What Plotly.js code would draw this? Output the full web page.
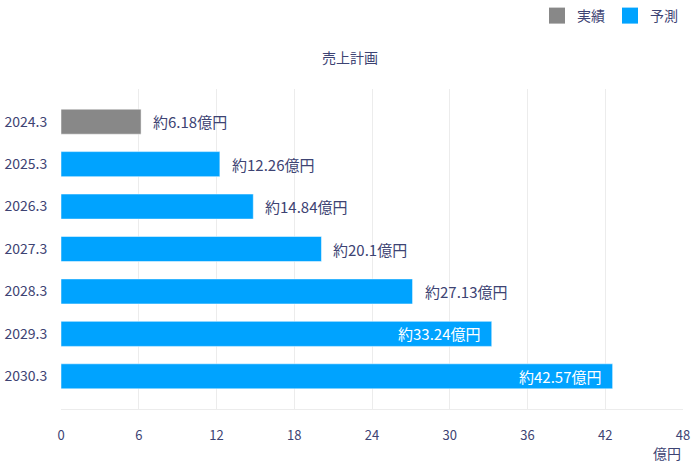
<!DOCTYPE html>
<html>
<head>
<meta charset="utf-8">
<script src="https://cdn.plot.ly/plotly-3.0.1.min.js"></script>
<style>
  html, body { margin: 0; padding: 0; background: #fff; }
  #chart { width: 700px; height: 469px; }
</style>
</head>
<body>
<div id="chart"></div>
<script>
// --- data ---
const years = ['2024.3', '2025.3', '2026.3', '2027.3', '2028.3', '2029.3', '2030.3'];
const actualYears = ['2024.3'];
const actualValues = [6.18];
const forecastYears = ['2025.3', '2026.3', '2027.3', '2028.3', '2029.3', '2030.3'];
const forecastValues = [12.26, 14.84, 20.1, 27.13, 33.24, 42.57];
const xTicks = [0, 6, 12, 18, 24, 30, 36, 42, 48];

const textColor = '#3d4373';
const fontFamily = '"Noto Sans CJK JP", "Noto Sans", sans-serif';
const grayColor = '#888888';
const blueColor = '#00a3ff';

// bars (legend drawn by the marker-only traces below so the squares are bigger)
const actualTrace = {
    type: 'bar',
    orientation: 'h',
    name: '実績',
    x: actualValues,
    y: actualYears,
    marker: { color: grayColor, line: { color: '#ffffff', width: 0.5 } },
    legendgroup: 'a',
    showlegend: false
};
const forecastTrace = {
    type: 'bar',
    orientation: 'h',
    name: '予測',
    x: forecastValues,
    y: forecastYears,
    marker: { color: blueColor, line: { color: '#ffffff', width: 0.5 } },
    legendgroup: 'f',
    showlegend: false
};
const legendActual = {
    type: 'scatter', mode: 'markers', name: '実績',
    x: [null], y: [null], legendgroup: 'a',
    marker: { symbol: 'square', size: 18, color: grayColor }
};
const legendForecast = {
    type: 'scatter', mode: 'markers', name: '予測',
    x: [null], y: [null], legendgroup: 'f',
    marker: { symbol: 'square', size: 18, color: blueColor }
};

// value labels: long bars get the label inside, the rest outside
function makeLabel(v, yr) {
    const inside = v > 30;
    return {
        x: v, y: years.indexOf(yr), xref: 'x', yref: 'y',
        text: '約' + v + '億円',
        showarrow: false,
        xanchor: inside ? 'right' : 'left',
        xshift: inside ? -10 : 10,
        font: { size: 15, color: inside ? '#ffffff' : textColor, family: fontFamily }
    };
}
const labels = actualValues.map((v, i) => makeLabel(v, actualYears[i]))
    .concat(forecastValues.map((v, i) => makeLabel(v, forecastYears[i])));

// unit label at the end of the x axis
labels.push({
    text: '億円', xref: 'paper', yref: 'paper', x: 1, y: 0,
    xanchor: 'right', yanchor: 'middle', yshift: -44,
    showarrow: false,
    font: { size: 14, color: textColor, family: fontFamily }
});

const layout = {
    width: 700,
    height: 469,
    margin: { l: 61, r: 17, t: 89, b: 60 },
    paper_bgcolor: '#ffffff',
    plot_bgcolor: '#ffffff',
    font: { family: fontFamily, color: textColor, size: 13 },
    barmode: 'overlay',
    bargap: 0.41,
    title: {
        text: '売上計画',
        x: 0.5, xref: 'container',
        y: 1 - 58 / 469, yref: 'container', yanchor: 'middle',
        font: { size: 14, color: textColor, family: fontFamily }
    },
    showlegend: true,
    legend: {
        orientation: 'h',
        x: 1, xanchor: 'right',
        y: 1 - 16 / 469, yref: 'container', yanchor: 'middle',
        font: { size: 14, color: textColor, family: fontFamily },
        itemwidth: 30,
        traceorder: 'normal'
    },
    xaxis: {
        range: [0, 48],
        tickvals: xTicks,
        ticks: 'outside',
        ticklen: 14,
        tickcolor: 'rgba(0,0,0,0)',
        showgrid: true,
        gridcolor: '#ececec',
        gridwidth: 1,
        zeroline: false,
        showline: true,
        linecolor: '#ececec',
        linewidth: 1,
        tickfont: { size: 13, color: textColor }
    },
    yaxis: {
        type: 'category',
        categoryorder: 'array',
        categoryarray: years,
        range: [6.77, -0.77],
        ticks: 'outside',
        ticklen: 10,
        tickcolor: 'rgba(0,0,0,0)',
        showgrid: false,
        zeroline: false,
        tickfont: { size: 14, color: textColor }
    },
    annotations: labels
};

Plotly.newPlot('chart', [actualTrace, forecastTrace, legendActual, legendForecast], layout,
    { displayModeBar: false, staticPlot: true });
</script>
</body>
</html>
